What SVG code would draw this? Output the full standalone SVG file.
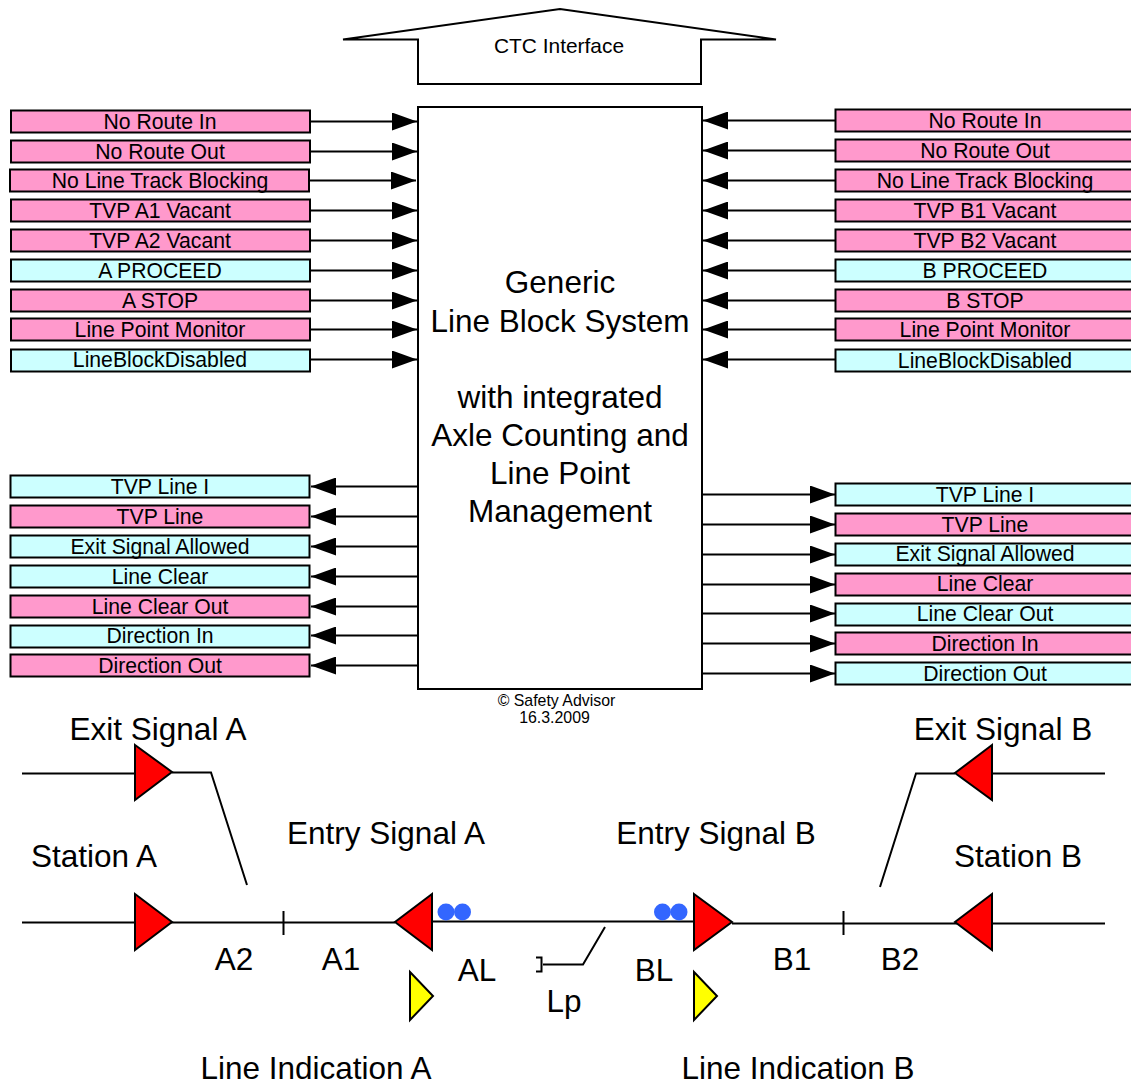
<svg xmlns="http://www.w3.org/2000/svg" width="1131" height="1086" viewBox="0 0 1131 1086">
<style>
text{font-family:"Liberation Sans",Arial,sans-serif;fill:#000;text-anchor:middle}
.s{font-size:21.2px}.l{font-size:31.5px}.c{font-size:20.9px}.t{font-size:15.9px}
.p,.b,.n{stroke:#000;stroke-width:2}.p{fill:#ff99cc}.b{fill:#ccffff}.n{fill:#fff}
.w{fill:none;stroke:#000;stroke-width:2}
.r{fill:#ff0000;stroke:#000;stroke-width:2}.y{fill:#ffff00;stroke:#000;stroke-width:2}.d{fill:#3366ff}
</style>
<defs><marker id="a" markerUnits="userSpaceOnUse" markerWidth="25" markerHeight="18" refX="25" refY="9" orient="auto"><path d="M0 0L25 9L0 18Z" fill="#000"/></marker></defs>
<g id="ctc"><path class="n" d="M343 39.500L560 9L776 39.500H701V84H418V39.500Z"/><text class="c" x="559" y="53">CTC Interface</text></g>
<g id="core"><rect class="n" x="418" y="107" width="284" height="582"/>
<text class="l" x="560" y="293">Generic</text><text class="l" x="560" y="332">Line Block System</text><text class="l" x="560" y="408">with integrated</text><text class="l" x="560" y="446">Axle Counting and</text><text class="l" x="560" y="484">Line Point</text><text class="l" x="560" y="522">Management</text></g>
<g id="connectors">
<g class="w">
<path marker-end="url(#a)" d="M310 121.500H417"/><path marker-end="url(#a)" d="M310 151.500H417"/><path marker-end="url(#a)" d="M309 180.500H416"/><path marker-end="url(#a)" d="M310 210.500H417"/><path marker-end="url(#a)" d="M310 240.500H417"/><path marker-end="url(#a)" d="M310 270.500H417"/><path marker-end="url(#a)" d="M310 300.500H417"/><path marker-end="url(#a)" d="M310 329.500H417"/><path marker-end="url(#a)" d="M310 359.500H417"/>
<path marker-end="url(#a)" d="M835 120.500H703"/><path marker-end="url(#a)" d="M835 150.500H703"/><path marker-end="url(#a)" d="M835 180.500H703"/><path marker-end="url(#a)" d="M835 210.500H703"/><path marker-end="url(#a)" d="M835 240.500H703"/><path marker-end="url(#a)" d="M835 270.500H703"/><path marker-end="url(#a)" d="M835 300.500H703"/><path marker-end="url(#a)" d="M835 329.500H703"/><path marker-end="url(#a)" d="M835 359.500H703"/>
<path marker-end="url(#a)" d="M418 486.500H311"/><path marker-end="url(#a)" d="M418 516.500H311"/><path marker-end="url(#a)" d="M418 546.500H311"/><path marker-end="url(#a)" d="M418 576.500H311"/><path marker-end="url(#a)" d="M418 606.500H311"/><path marker-end="url(#a)" d="M418 635.500H311"/><path marker-end="url(#a)" d="M418 665.500H311"/>
<path marker-end="url(#a)" d="M702 494.500H835"/><path marker-end="url(#a)" d="M702 524.500H835"/><path marker-end="url(#a)" d="M702 554.500H835"/><path marker-end="url(#a)" d="M702 584.500H835"/><path marker-end="url(#a)" d="M702 613.500H835"/><path marker-end="url(#a)" d="M702 643.500H835"/><path marker-end="url(#a)" d="M702 673.500H835"/>
</g></g>
<g id="left-inputs">
<g id="li1"><rect class="p" x="11" y="110.500" width="299" height="22"/><text class="s" x="160" y="129">No Route In</text></g>
<g id="li2"><rect class="p" x="11" y="140.500" width="299" height="22"/><text class="s" x="160" y="159">No Route Out</text></g>
<g id="li3"><rect class="p" x="10" y="169.500" width="299" height="22"/><text class="s" x="160" y="188">No Line Track Blocking</text></g>
<g id="li4"><rect class="p" x="11" y="199.500" width="299" height="22"/><text class="s" x="160" y="218">TVP A1 Vacant</text></g>
<g id="li5"><rect class="p" x="11" y="229.500" width="299" height="22"/><text class="s" x="160" y="248">TVP A2 Vacant</text></g>
<g id="li6"><rect class="b" x="11" y="259.500" width="299" height="22"/><text class="s" x="160" y="278">A PROCEED</text></g>
<g id="li7"><rect class="p" x="11" y="289.500" width="299" height="22"/><text class="s" x="160" y="308">A STOP</text></g>
<g id="li8"><rect class="p" x="11" y="318.500" width="299" height="22"/><text class="s" x="160" y="337">Line Point Monitor</text></g>
<g id="li9"><rect class="b" x="11" y="349.500" width="299" height="22"/><text class="s" x="160" y="367">LineBlockDisabled</text></g>
</g>
<g id="right-inputs">
<g id="ri1"><rect class="p" x="835.500" y="109.500" width="299" height="22"/><text class="s" x="985" y="127.500">No Route In</text></g>
<g id="ri2"><rect class="p" x="835.500" y="139.500" width="299" height="22"/><text class="s" x="985" y="157.500">No Route Out</text></g>
<g id="ri3"><rect class="p" x="835.500" y="169.500" width="299" height="22"/><text class="s" x="985" y="187.500">No Line Track Blocking</text></g>
<g id="ri4"><rect class="p" x="835.500" y="199.500" width="299" height="22"/><text class="s" x="985" y="217.500">TVP B1 Vacant</text></g>
<g id="ri5"><rect class="p" x="835.500" y="229.500" width="299" height="22"/><text class="s" x="985" y="247.500">TVP B2 Vacant</text></g>
<g id="ri6"><rect class="b" x="835.500" y="259.500" width="299" height="22"/><text class="s" x="985" y="277.500">B PROCEED</text></g>
<g id="ri7"><rect class="p" x="835.500" y="289.500" width="299" height="22"/><text class="s" x="985" y="307.500">B STOP</text></g>
<g id="ri8"><rect class="p" x="835.500" y="318.500" width="299" height="22"/><text class="s" x="985" y="336.500">Line Point Monitor</text></g>
<g id="ri9"><rect class="b" x="835.500" y="349.500" width="299" height="22"/><text class="s" x="985" y="367.500">LineBlockDisabled</text></g>
</g>
<g id="left-outputs">
<g id="lo1"><rect class="b" x="10.500" y="475.500" width="299" height="22"/><text class="s" x="160" y="494">TVP Line I</text></g>
<g id="lo2"><rect class="p" x="10.500" y="505.500" width="299" height="22"/><text class="s" x="160" y="524">TVP Line</text></g>
<g id="lo3"><rect class="b" x="10.500" y="535.500" width="299" height="22"/><text class="s" x="160" y="554">Exit Signal Allowed</text></g>
<g id="lo4"><rect class="b" x="10.500" y="565.500" width="299" height="22"/><text class="s" x="160" y="584">Line Clear</text></g>
<g id="lo5"><rect class="p" x="10.500" y="595.500" width="299" height="22"/><text class="s" x="160" y="614">Line Clear Out</text></g>
<g id="lo6"><rect class="b" x="10.500" y="625.500" width="299" height="22"/><text class="s" x="160" y="643">Direction In</text></g>
<g id="lo7"><rect class="p" x="10.500" y="654.500" width="299" height="22"/><text class="s" x="160" y="673">Direction Out</text></g>
</g>
<g id="right-outputs">
<g id="ro1"><rect class="b" x="835.500" y="483.500" width="299" height="22"/><text class="s" x="985" y="502">TVP Line I</text></g>
<g id="ro2"><rect class="p" x="835.500" y="513.500" width="299" height="22"/><text class="s" x="985" y="532">TVP Line</text></g>
<g id="ro3"><rect class="b" x="835.500" y="543.500" width="299" height="22"/><text class="s" x="985" y="561">Exit Signal Allowed</text></g>
<g id="ro4"><rect class="p" x="835.500" y="573.500" width="299" height="22"/><text class="s" x="985" y="591">Line Clear</text></g>
<g id="ro5"><rect class="b" x="835.500" y="603.500" width="299" height="22"/><text class="s" x="985" y="621">Line Clear Out</text></g>
<g id="ro6"><rect class="p" x="835.500" y="632.500" width="299" height="22"/><text class="s" x="985" y="651">Direction In</text></g>
<g id="ro7"><rect class="b" x="835.500" y="662.500" width="299" height="22"/><text class="s" x="985" y="681">Direction Out</text></g>
</g>
<g id="copyright"><text class="t" x="556.500" y="706">© Safety Advisor</text><text class="t" x="554.500" y="723">16.3.2009</text></g>
<g id="track">
<path class="w" d="M22 773.500H135M172 772.500H211L247 885M22 922.500H395M432 921.500H694M732 923.500H1105M283.500 911V935M843.500 911V935M1105 773.500H992M955 773.500H916L880 887M605 927L583 964.500H543M536 957.500H541.500V971.500H536"/>
<path class="r" d="M135 745L172 772L135 800Z"/><path class="r" d="M135 894L172 922L135 950Z"/>
<path class="r" d="M432 894L395 922L432 950Z"/><path class="r" d="M694 894L732 922L694 950Z"/>
<path class="r" d="M992 745L955 773L992 800Z"/><path class="r" d="M992 894L955 922L992 950Z"/>
<path class="y" d="M410 972L433 996L410 1020Z"/><path class="y" d="M694 972L717 996L694 1020Z"/>
<circle class="d" cx="446" cy="912" r="8.500"/><circle class="d" cx="462.500" cy="912" r="8.500"/><circle class="d" cx="662.500" cy="912" r="8.500"/><circle class="d" cx="679" cy="912" r="8.500"/>
</g>
<g id="labels">
<text class="l" x="158" y="740">Exit Signal A</text><text class="l" x="1003" y="740">Exit Signal B</text>
<text class="l" x="386" y="844">Entry Signal A</text><text class="l" x="716" y="844">Entry Signal B</text>
<text class="l" x="94" y="867">Station A</text><text class="l" x="1018" y="867">Station B</text>
<text class="l" x="234" y="970">A2</text><text class="l" x="341" y="970">A1</text><text class="l" x="477" y="981">AL</text><text class="l" x="654" y="981">BL</text><text class="l" x="792" y="970">B1</text><text class="l" x="900" y="970">B2</text><text class="l" x="564" y="1012">Lp</text>
<text class="l" x="316" y="1079.300">Line Indication A</text><text class="l" x="798" y="1079.300">Line Indication B</text>
</g>
</svg>
